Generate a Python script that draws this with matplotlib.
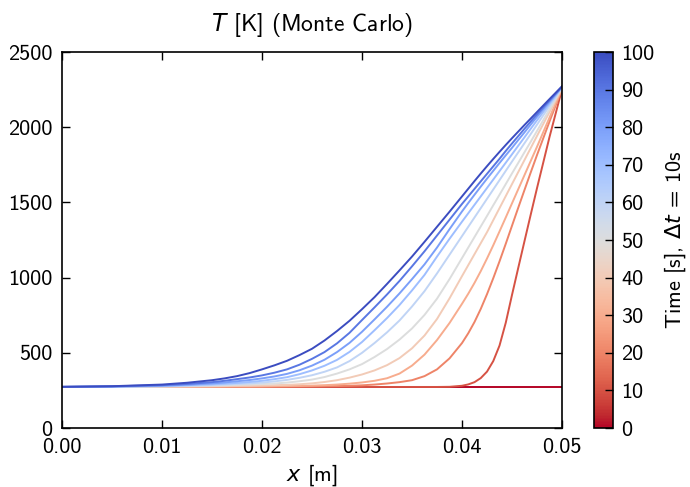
"""Temperature profiles T(x) at 10 s intervals from the Monte Carlo run."""
import numpy as np
import matplotlib
matplotlib.use("Agg")
import matplotlib.pyplot as plt
from matplotlib import cm, colors

# ---- data ----
x_m = [0.0, 0.005, 0.01, 0.0125, 0.015, 0.01625, 0.0175, 0.01875,
       0.02, 0.02125, 0.0225, 0.02375, 0.025, 0.02625, 0.0275, 0.02875,
       0.03, 0.03125, 0.0325, 0.03375, 0.035, 0.03625, 0.0375, 0.03875,
       0.04, 0.040625, 0.04125, 0.041875, 0.0425, 0.043125, 0.04375,
       0.044375, 0.045, 0.045625, 0.04625, 0.046875, 0.0475, 0.04875,
       0.05]

times_s = [0, 10, 20, 30, 40, 50, 60, 70, 80, 90, 100]

T_t0 = [273] * 39
T_t10 = [273, 273, 273, 273, 273, 273, 273, 273, 273, 273, 273, 273,
         273, 273, 273, 273, 273, 273, 273, 273, 273, 273, 273, 274,
         281, 290, 305, 332, 375, 445, 548, 700, 885, 1065, 1243, 1420,
         1595, 1935, 2252]
T_t20 = [273, 273, 273, 273, 273, 274, 274, 274, 274, 275, 275, 276,
         277, 278, 279, 281, 284, 289, 296, 305, 318, 345, 390, 463,
         565, 630, 705, 792, 890, 996, 1108, 1225, 1345, 1465, 1583, 1700,
         1815, 2038, 2255]
T_t30 = [273, 273, 274, 274, 275, 275, 276, 276, 277, 278, 279, 280,
         282, 285, 289, 295, 303, 314, 331, 362, 415, 488, 585, 698,
         826, 893, 965, 1043, 1127, 1215, 1307, 1400, 1494, 1588, 1682, 1776,
         1870, 2064, 2258]
T_t40 = [273, 273, 275, 276, 278, 279, 280, 281, 283, 285, 287, 291,
         297, 306, 318, 335, 356, 383, 418, 465, 530, 615, 725, 862,
         1010, 1083, 1156, 1229, 1302, 1382, 1462, 1542, 1622, 1702, 1782, 1862,
         1942, 2101, 2260]
T_t50 = [273, 273, 276, 279, 282, 284, 287, 289, 292, 296, 302, 311,
         322, 339, 362, 390, 425, 472, 525, 588, 662, 752, 860, 990,
         1130, 1200, 1270, 1340, 1410, 1481, 1551, 1622, 1693, 1763, 1834, 1904,
         1975, 2119, 2263]
T_t60 = [273, 274, 278, 282, 286, 289, 293, 297, 302, 310, 320, 334,
         351, 374, 403, 445, 500, 565, 636, 715, 808, 910, 1028, 1152,
         1276, 1338, 1400, 1462, 1524, 1586, 1648, 1710, 1772, 1833, 1894, 1955,
         2017, 2141, 2265]
T_t70 = [273, 275, 280, 285, 291, 295, 300, 306, 314, 325, 338, 358,
         383, 414, 453, 506, 572, 650, 731, 818, 915, 1018, 1140, 1258,
         1372, 1428, 1484, 1540, 1596, 1652, 1708, 1764, 1820, 1877, 1933, 1990,
         2046, 2157, 2267]
T_t80 = [273, 276, 282, 288, 297, 303, 311, 319, 330, 343, 360, 384,
         415, 454, 505, 566, 640, 722, 806, 895, 990, 1088, 1200, 1322,
         1440, 1496, 1551, 1605, 1658, 1710, 1762, 1813, 1863, 1915, 1966, 2018,
         2069, 2169, 2268]
T_t90 = [274, 277, 285, 293, 305, 314, 325, 336, 350, 368, 390, 421,
         460, 505, 563, 633, 718, 802, 888, 978, 1075, 1175, 1280, 1385,
         1490, 1540, 1590, 1640, 1690, 1740, 1790, 1842, 1892, 1941, 1990, 2038,
         2085, 2178, 2270]
T_t100 = [274, 278, 289, 301, 318, 330, 345, 365, 390, 417, 447, 485,
          527, 582, 645, 713, 790, 870, 958, 1048, 1140, 1238, 1338, 1438,
          1540, 1591, 1642, 1692, 1741, 1789, 1836, 1882, 1927, 1971, 2015, 2058,
          2101, 2187, 2272]

profiles = [T_t0, T_t10, T_t20, T_t30, T_t40, T_t50,
            T_t60, T_t70, T_t80, T_t90, T_t100]

x_ticks = [0.0, 0.01, 0.02, 0.03, 0.04, 0.05]
y_ticks = [0, 500, 1000, 1500, 2000, 2500]
cb_ticks = [0, 10, 20, 30, 40, 50, 60, 70, 80, 90, 100]


def main():
    plt.rcParams["font.family"] = ["cmss10", "DejaVu Sans"]
    plt.rcParams["mathtext.fontset"] = "custom"
    plt.rcParams["mathtext.rm"] = "DejaVu Sans"
    plt.rcParams["mathtext.it"] = "DejaVu Sans:italic"
    plt.rcParams["axes.unicode_minus"] = False
    plt.rcParams["axes.formatter.use_mathtext"] = False

    fs = 16
    fig = plt.figure(figsize=(6.9, 4.87), dpi=100)
    ax = fig.add_axes([0.0899, 0.1211, 0.7246, 0.7721])
    cax = fig.add_axes([0.861, 0.1211, 0.027, 0.7721])

    norm = colors.Normalize(vmin=0, vmax=100)
    cmap = plt.get_cmap("coolwarm_r")
    x = np.array(x_m)
    for t, T in zip(times_s, profiles):
        ax.plot(x, T, color=cmap(norm(t)), lw=1.4)

    ax.set_xlim(0, 0.05)
    ax.set_ylim(0, 2500)
    ax.set_xticks(x_ticks)
    ax.set_xticklabels([f"{v:.2f}" for v in x_ticks])
    ax.set_yticks(y_ticks)
    ax.set_yticklabels([str(v) for v in y_ticks])
    ax.tick_params(direction="in", top=True, right=True, length=6,
                   width=1, labelsize=fs, pad=7)
    for s in ax.spines.values():
        s.set_linewidth(1.2)
    ax.set_xlabel(r"$x$ [m]", fontsize=fs, labelpad=4)
    ax.set_title(r"$T$ [K] (Monte Carlo)", fontsize=fs + 1, pad=15)

    sm = cm.ScalarMappable(norm=norm, cmap=cmap)
    cb = fig.colorbar(sm, cax=cax, ticks=cb_ticks)
    cb.ax.tick_params(direction="in", length=6, width=1, labelsize=fs, pad=6)
    cb.outline.set_linewidth(1.2)
    cb.set_label(r"Time [s], $\Delta t$ = 10s", fontsize=fs, labelpad=6)

    fig.savefig("out.png", dpi=100)


if __name__ == "__main__":
    main()
